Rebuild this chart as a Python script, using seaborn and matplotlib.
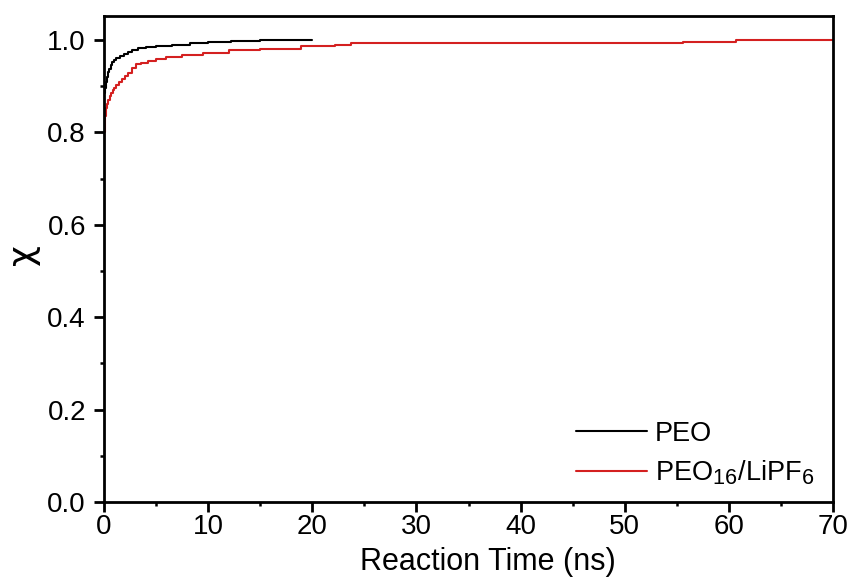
import matplotlib
matplotlib.use("Agg")
import matplotlib.pyplot as plt
import matplotlib._mathtext as _mt
import seaborn as sns
import pandas as pd
from matplotlib.ticker import MultipleLocator, FormatStrFormatter
from matplotlib.lines import Line2D

peo_t = [0, 0.05, 0.1, 0.15, 0.2, 0.3, 0.4, 0.5, 0.65, 0.8, 1.0, 1.2, 1.5, 1.9, 2.3,
         2.7, 3.3, 4.0, 5.0, 6.5, 8.3, 10, 12.2, 15, 20]
peo_v = [0.885, 0.89, 0.897, 0.903, 0.91, 0.92, 0.93, 0.938, 0.946, 0.952, 0.957,
         0.962, 0.965, 0.969, 0.974, 0.979, 0.982, 0.985, 0.987, 0.99, 0.994, 0.996,
         0.998, 0.999, 1.0]

li_t = [0, 0.03, 0.06, 0.1, 0.15, 0.2, 0.3, 0.4, 0.55, 0.7, 0.85, 1.0, 1.2, 1.4, 1.7,
        2.0, 2.3, 2.7, 3.1, 3.6, 4.2, 5.0, 6.0, 7.5, 9.5, 12, 15, 18.9, 22.2, 23.7,
        55.6, 60.7, 70]
li_v = [0.775, 0.80, 0.82, 0.835, 0.845, 0.852, 0.862, 0.87, 0.878, 0.885, 0.891,
        0.897, 0.903, 0.909, 0.916, 0.922, 0.928, 0.940, 0.947, 0.951, 0.955, 0.959,
        0.964, 0.968, 0.972, 0.978, 0.981, 0.986, 0.989, 0.993, 0.996, 0.999, 1.0]

labels = ["PEO", r"PEO$_{16}$/LiPF$_6$"]
colors = ["#000000", "#d42020"]

df = pd.concat([
    pd.DataFrame({"t": peo_t, "v": peo_v, "series": labels[0]}),
    pd.DataFrame({"t": li_t, "v": li_v, "series": labels[1]}),
])

# slightly larger subscripts, like the reference
_mt.SHRINK_FACTOR = 0.8

sns.set_style("ticks")
plt.rcParams["font.family"] = ["Liberation Sans", "DejaVu Sans"]
plt.rcParams["mathtext.fontset"] = "custom"
plt.rcParams["mathtext.rm"] = "Liberation Sans"
plt.rcParams["mathtext.it"] = "Liberation Sans:italic"
plt.rcParams["text.color"] = "black"
plt.rcParams["axes.labelcolor"] = "black"
plt.rcParams["xtick.color"] = "black"
plt.rcParams["ytick.color"] = "black"
plt.rcParams["axes.edgecolor"] = "black"

fig = plt.figure(figsize=(8.51, 5.88), dpi=100)
ax = fig.add_axes([0.1222, 0.1463, 0.8568, 0.8265])

sns.lineplot(data=df, x="t", y="v", hue="series", palette=dict(zip(labels, colors)),
             drawstyle="steps-post", linewidth=1.5, ax=ax, legend=False)

ax.set_xlim(0, 70)
ax.set_ylim(0, 1.052)
ax.xaxis.set_major_locator(MultipleLocator(10))
ax.xaxis.set_minor_locator(MultipleLocator(5))
ax.yaxis.set_major_locator(MultipleLocator(0.2))
ax.yaxis.set_minor_locator(MultipleLocator(0.1))
ax.yaxis.set_major_formatter(FormatStrFormatter("%.1f"))
ax.tick_params(which="major", direction="out", length=7, width=2, labelsize=20,
               top=False, right=False)
ax.tick_params(axis="x", which="major", pad=2)
ax.tick_params(axis="y", which="major", pad=6)
ax.tick_params(which="minor", direction="out", length=3, width=1.8, top=False, right=False)
for s in ax.spines.values():
    s.set_visible(True)
    s.set_linewidth(2)

ax.set_xlabel("Reaction Time (ns)", fontsize=22)
ax.xaxis.set_label_coords(0.527, -0.093)
ax.set_ylabel("χ", fontsize=26, family=["DejaVu Sans"])
ax.yaxis.set_label_coords(-0.088, 0.51)

handles = [Line2D([], [], color=c, lw=1.5) for c in colors]
ax.legend(handles, labels, loc="lower right", frameon=False, fontsize=19.5,
          handlelength=2.6, handletextpad=0.3, labelspacing=0.42,
          borderaxespad=0, bbox_to_anchor=(0.9885, 0.009))

fig.savefig("out.png", dpi=100)
